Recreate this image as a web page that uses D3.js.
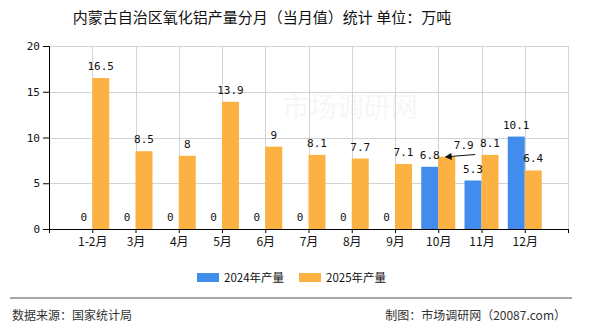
<!DOCTYPE html>
<html>
<head>
<meta charset="utf-8">
<script src="https://cdn.jsdelivr.net/npm/d3@7/dist/d3.min.js"></script>
<style>
  html, body { margin: 0; padding: 0; background: #fff; }
  svg { display: block; }
</style>
</head>
<body>
<svg id="chart" width="590" height="330"></svg>
<script>
// ---- data ----
const categories = ["1-2月", "3月", "4月", "5月", "6月", "7月", "8月", "9月", "10月", "11月", "12月"];
const values2024 = [0, 0, 0, 0, 0, 0, 0, 0, 6.8, 5.3, 10.1];
const values2025 = [16.5, 8.5, 8, 13.9, 9, 8.1, 7.7, 7.1, 7.9, 8.1, 6.4];
const seriesNames = ["2024年产量", "2025年产量"];
const yTicks = [0, 5, 10, 15, 20];
const titleText = "内蒙古自治区氧化铝产量分月（当月值）统计 单位：万吨";
const sourceText = "数据来源：国家统计局";
const creditText = "制图：市场调研网（20087.com）";

(function () {
// ---- setup ----
const colors = ["#418cec", "#fbb242"];
const svg = d3.select("#chart");
const pLeft = 49, pRight = 568, pTop = 46, pBottom = 229;
const barW = 17;
const cjk = "'Noto Sans CJK SC', 'Noto Sans', sans-serif";
const mono = "'DejaVu Sans Mono', 'Liberation Mono', monospace";

const domain = ["__start", ...categories, "__end"];
const x = d3.scalePoint().domain(domain).range([pLeft, pRight]).padding(0);
const y = d3.scaleLinear().domain([0, 20]).range([pBottom, pTop]);

// title
svg.append("text")
  .attr("x", 262).attr("y", 23)
  .attr("text-anchor", "middle")
  .style("font-family", cjk).style("font-size", "15px").attr("fill", "#111")
  .text(titleText);

// watermark
svg.append("text").attr("x", 350).attr("y", 117).attr("text-anchor", "middle")
  .style("font-family", cjk).style("font-size", "27px").attr("fill", "#000").attr("opacity", 0.03)
  .text("市场调研网");

// grid
const grid = svg.append("g").attr("stroke", "#d3d3d3").attr("stroke-width", 1);
yTicks.filter(t => t > 0).forEach(t => {
  grid.append("line").attr("x1", pLeft).attr("x2", pRight)
    .attr("y1", Math.round(y(t)) + 0.5).attr("y2", Math.round(y(t)) + 0.5);
});
domain.slice(1).forEach(d => {
  grid.append("line").attr("x1", Math.round(x(d)) + 0.5).attr("x2", Math.round(x(d)) + 0.5)
    .attr("y1", pTop).attr("y2", pBottom);
});

// bars
const series = [values2024, values2025];
series.forEach((vals, si) => {
  svg.append("g").selectAll("rect").data(vals).join("rect")
    .attr("x", (d, i) => si === 0 ? x(categories[i]) - barW : x(categories[i]))
    .attr("y", d => y(d))
    .attr("width", barW)
    .attr("height", d => y(0) - y(d))
    .attr("fill", colors[si]);
});

// value labels
const labelShift = { "1-8": 17 }; // series 1, index 8 label moved aside (annotation)
series.forEach((vals, si) => {
  svg.append("g").selectAll("text").data(vals).join("text")
    .attr("x", (d, i) => {
      const base = x(categories[i]) + (si === 0 ? -barW / 2 : barW / 2);
      return base + (labelShift[si + "-" + i] || 0);
    })
    .attr("y", d => y(d) - 8)
    .attr("text-anchor", "middle")
    .style("font-family", mono).style("font-size", "11px").attr("fill", "#111")
    .text(d => d);
});

// arrow annotation near 10月 label
const defs = svg.append("defs");
defs.append("marker").attr("id", "arr").attr("viewBox", "0 0 10 10")
  .attr("refX", 2).attr("refY", 5).attr("markerWidth", 8).attr("markerHeight", 7)
  .attr("markerUnits", "userSpaceOnUse")
  .attr("orient", "auto-start-reverse")
  .append("path").attr("d", "M0,0 L10,5 L0,10 z").attr("fill", "#111");
const ax = x("10月");
svg.append("line")
  .attr("x1", ax + 37).attr("y1", 154.5)
  .attr("x2", ax + 12).attr("y2", 156.5)
  .attr("stroke", "#111").attr("stroke-width", 1)
  .attr("marker-end", "url(#arr)");

// axes
const yAxis = svg.append("g").attr("transform", `translate(${pLeft},0)`)
  .call(d3.axisLeft(y).tickValues(yTicks).tickSize(6).tickPadding(3));
yAxis.selectAll("text").style("font-family", mono).style("font-size", "11px").attr("fill", "#111");
yAxis.selectAll("line, path").attr("stroke", "#000");

const xAxis = svg.append("g").attr("transform", `translate(0,${pBottom})`)
  .call(d3.axisBottom(x).tickSize(4).tickPadding(4).tickFormat(d => d.startsWith("__") ? "" : d));
xAxis.selectAll("text").style("font-family", cjk).style("font-size", "12px").attr("fill", "#111");
xAxis.selectAll("line, path").attr("stroke", "#000");

// legend
const lg = svg.append("g");
const legendX = [197, 299];
seriesNames.forEach((n, i) => {
  lg.append("rect").attr("x", legendX[i]).attr("y", 273).attr("width", 22).attr("height", 9).attr("fill", colors[i]);
  lg.append("text").attr("x", legendX[i] + 27).attr("y", 281.5)
    .style("font-family", cjk).style("font-size", "11.5px").attr("fill", "#111").text(n);
});

// footer
svg.append("line").attr("x1", 10).attr("x2", 572).attr("y1", 298).attr("y2", 298)
  .attr("stroke", "#888").attr("stroke-width", 1.5);
svg.append("text").attr("x", 12).attr("y", 320)
  .style("font-family", cjk).style("font-size", "12px").attr("fill", "#333").text(sourceText);
svg.append("text").attr("x", 566).attr("y", 320).attr("text-anchor", "end")
  .style("font-family", cjk).style("font-size", "12px").attr("fill", "#333").text(creditText);
})();
</script>
</body>
</html>
